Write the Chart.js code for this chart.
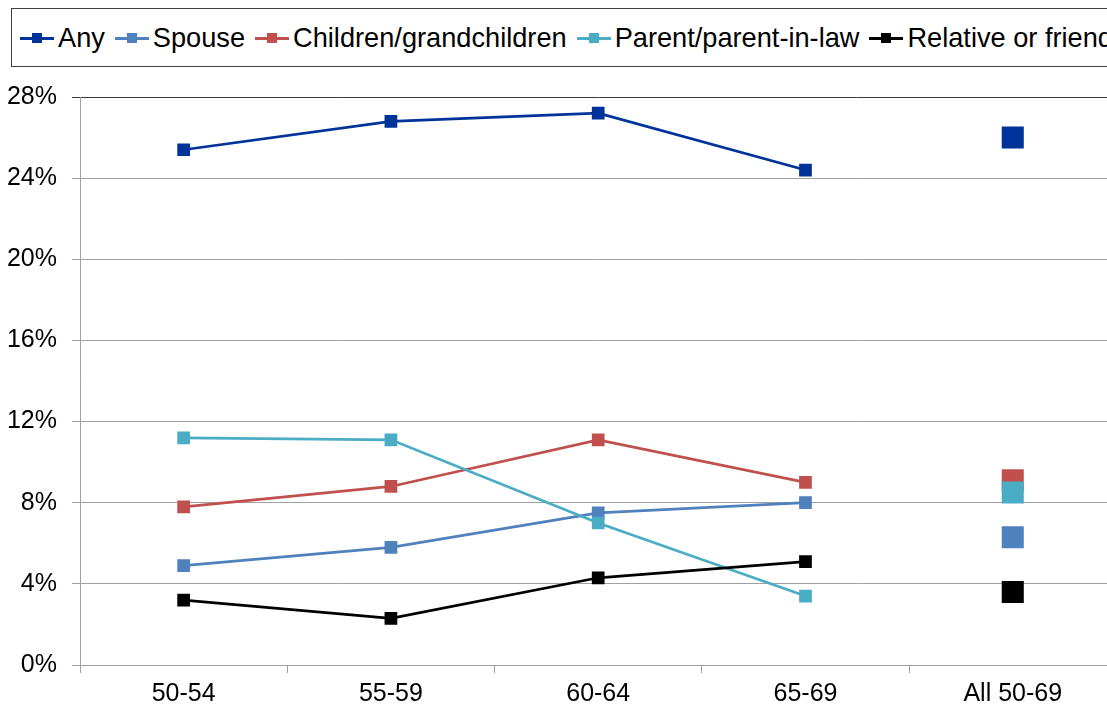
<!DOCTYPE html>
<html>
<head>
<meta charset="utf-8">
<script src="https://cdn.jsdelivr.net/npm/chart.js@4/dist/chart.umd.min.js"></script>
<style>
  html, body { margin: 0; padding: 0; background: #fff; overflow: hidden; width: 1107px; height: 709px; }
  #wrap { position: relative; width: 1107px; height: 709px; overflow: hidden; }
  #chartBox { position: absolute; left: 0; top: 0; }
  #legend {
    position: absolute; left: 11px; top: 8px; width: 1130px; height: 59px;
    border: 1px solid #404040; box-sizing: border-box;
    display: flex; align-items: center; padding-left: 8px;
    font-family: "Liberation Sans", Arial, sans-serif; font-size: 27.2px; color: #000;
    white-space: nowrap; background: #fff;
  }
  .item { display: flex; align-items: center; margin-right: 10px; }
  .mk { position: relative; width: 34px; height: 12px; margin-right: 4px; }
  .mk .ln { position: absolute; left: 0; right: 0; top: 5px; height: 3px; }
  .mk .sq { position: absolute; left: 12px; top: 1px; width: 10px; height: 10px; }
</style>
</head>
<body>
<div id="wrap">
  <canvas id="chartBox" width="1132" height="709"></canvas>
  <div id="legend"></div>
</div>
<script>
// Age groups; the last column is the overall average shown as a stand-alone marker
const categories = ['50-54', '55-59', '60-64', '65-69', 'All 50-69'];

// Share of people providing care, by recipient (percent)
const anyCare      = [25.4, 26.8, 27.2, 24.4, 26.0];
const spouseCare   = [4.9, 5.8, 7.5, 8.0, 6.3];
const childCare    = [7.8, 8.8, 11.1, 9.0, 9.1];
const parentCare   = [11.2, 11.1, 7.0, 3.4, 8.5];
const relativeCare = [3.2, 2.3, 4.3, 5.1, 3.6];

const seriesNames  = ['Any', 'Spouse', 'Children/grandchildren', 'Parent/parent-in-law', 'Relative or friend'];
const seriesValues = [anyCare, spouseCare, childCare, parentCare, relativeCare];
const seriesColors = ['#003399', '#4F81BD', '#C0504D', '#4BACC6', '#000000'];

const yTicks = [0, 4, 8, 12, 16, 20, 24, 28];

// Legend
const legend = document.getElementById('legend');
seriesNames.forEach((name, i) => {
  const item = document.createElement('div');
  item.className = 'item';
  item.innerHTML = '<div class="mk"><div class="ln" style="background:' + seriesColors[i] +
    '"></div><div class="sq" style="background:' + seriesColors[i] + '"></div></div><span></span>';
  item.querySelector('span').textContent = name;
  legend.appendChild(item);
});

const lastIdx = categories.length - 1;
const datasets = seriesNames.map((name, i) => ({
  label: name,
  data: seriesValues[i],
  // later series are painted over earlier ones
  order: seriesNames.length - i,
  borderColor: seriesColors[i],
  backgroundColor: seriesColors[i],
  borderWidth: 2.75,
  pointStyle: 'rect',
  pointBorderWidth: 0,
  pointBackgroundColor: seriesColors[i],
  pointRadius: categories.map((c, k) => k === lastIdx ? 15.6 : 9),
  pointHoverRadius: categories.map((c, k) => k === lastIdx ? 15.6 : 9),
  tension: 0,
  fill: false,
  // the overall column is not joined to the age-group line
  segment: {
    borderColor: ctx => ctx.p1DataIndex === lastIdx ? 'rgba(0,0,0,0)' : undefined
  }
}));

const tickFont = { family: '"Liberation Sans", Arial, sans-serif', size: 25 };

new Chart(document.getElementById('chartBox'), {
  type: 'line',
  data: { labels: categories, datasets },
  options: {
    responsive: false,
    animation: false,
    layout: { padding: { top: 97, right: 10, bottom: 0, left: 0 } },
    plugins: { legend: { display: false }, tooltip: { enabled: false } },
    scales: {
      x: {
        type: 'category',
        offset: true,
        grid: { offset: true, drawOnChartArea: false, drawTicks: true, tickLength: 8, color: '#a0a0a0' },
        border: { color: '#a0a0a0', width: 1 },
        ticks: { font: tickFont, color: '#000', padding: 6, maxRotation: 0 },
        afterFit: s => { s.height = 44; }
      },
      y: {
        min: yTicks[0],
        max: yTicks[yTicks.length - 1],
        afterBuildTicks: s => { s.ticks = yTicks.map(v => ({ value: v })); },
        grid: {
          color: ctx => ctx.tick && ctx.tick.value === 28 ? '#3a3a3a' : '#a0a0a0',
          tickLength: 8,
          lineWidth: 1
        },
        border: { color: '#a0a0a0', width: 1 },
        ticks: { font: tickFont, color: '#000', padding: 15, callback: v => v + '%' },
        afterFit: s => { s.width = 80; }
      }
    }
  }
});
</script>
</body>
</html>
